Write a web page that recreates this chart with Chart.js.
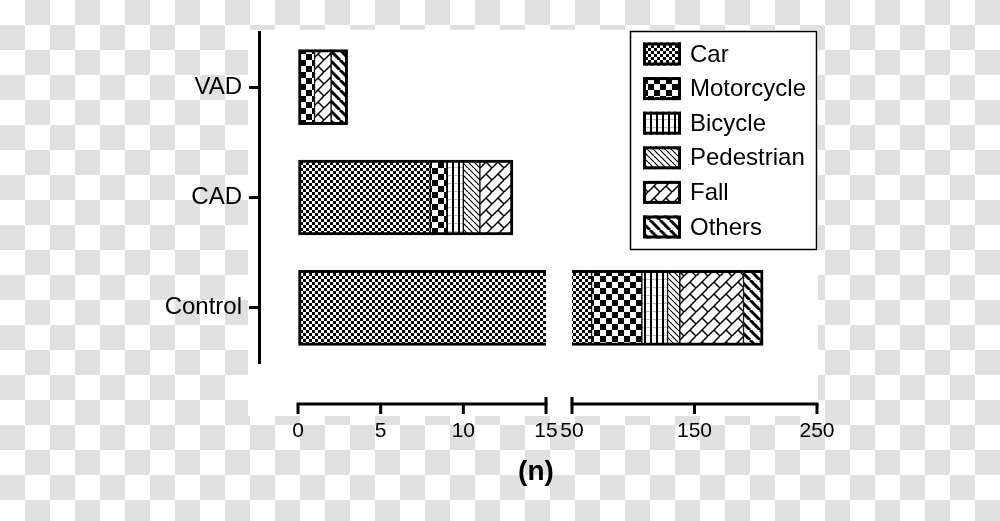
<!DOCTYPE html>
<html>
<head>
<meta charset="utf-8">
<script src="https://cdn.jsdelivr.net/npm/chart.js@4.4.1/dist/chart.umd.min.js"></script>
<style>
  html, body { margin: 0; padding: 0; }
  #stage {
    position: relative; width: 1000px; height: 521px; overflow: hidden;
    background-color: #fff;
    background-image: conic-gradient(#e0e0e0 0 25%, #fff 0 50%, #e0e0e0 0 75%, #fff 0);
    background-size: 50px 50px;
  }
  #paper { position: absolute; left: 248px; top: 30px; width: 570px; height: 386px; background: #fff; }
  canvas { position: absolute; left: 0; top: 0; }
</style>
</head>
<body>
<div id="stage">
  <div id="paper"></div>
  <canvas id="leftChart" width="1000" height="521"></canvas>
  <canvas id="rightChart" width="1000" height="521"></canvas>
</div>
<script>
const categories = ['VAD', 'CAD', 'Control'];
const seriesNames = ['Car', 'Motorcycle', 'Bicycle', 'Pedestrian', 'Fall', 'Others'];
const car        = [0, 8, 66];
const motorcycle = [1, 1, 41];
const bicycle    = [0, 1, 21];
const pedestrian = [0, 1, 10];
const fall       = [1, 2, 52];
const others     = [1, 0, 16];
const series = [car, motorcycle, bicycle, pedestrian, fall, others];

// broken x axis: two ranges
const leftTicks = [0, 5, 10, 15];
const rightTicks = [50, 150, 250];

Chart.defaults.font.family = "'Liberation Sans', Arial, sans-serif";
Chart.defaults.color = '#000';

function makePattern(w, h, draw) {
  const c = document.createElement('canvas');
  c.width = w; c.height = h;
  const g = c.getContext('2d');
  g.fillStyle = '#fff';
  g.fillRect(0, 0, w, h);
  g.fillStyle = '#000';
  g.strokeStyle = '#000';
  draw(g, w, h);
  return g.createPattern(c, 'repeat');
}

function diag(g, s, w, up) {
  g.lineWidth = w;
  g.beginPath();
  for (const o of [-s, 0, s]) {
    if (up) { g.moveTo(o, s); g.lineTo(o + s, 0); }
    else { g.moveTo(o, 0); g.lineTo(o + s, s); }
  }
  g.stroke();
}

const fills = [
  makePattern(6, 6, g => { g.fillRect(0, 0, 3, 3); g.fillRect(3, 3, 3, 3); }),
  makePattern(12, 12, g => { g.fillRect(0, 0, 6, 6); g.fillRect(6, 6, 6, 6); }),
  makePattern(6, 8, g => { g.fillStyle = '#bbb'; g.fillRect(0, 7, 6, 1); g.fillStyle = '#000'; g.fillRect(2, 0, 2, 8); }),
  makePattern(6, 6, (g, s) => diag(g, s, 1.2, false)),
  makePattern(12, 12, (g, s) => {
    diag(g, s, 1.5, true);
    g.beginPath(); g.moveTo(6, 6); g.lineTo(12, 12); g.stroke();
  }),
  makePattern(10, 10, (g, s) => diag(g, s, 3, false))
];

function edgeWidths(ctx) {
  if (ctx.type !== 'data') return 2;
  const vals = series.map(s => s[ctx.dataIndex]);
  const first = vals.findIndex(v => v > 0);
  let last = vals.length - 1;
  while (last > 0 && !(vals[last] > 0)) last--;
  const d = ctx.datasetIndex;
  return { top: 3, bottom: 3, left: d === first ? 3 : 1, right: d === last ? 3 : 1 };
}

function makeDatasets() {
  return seriesNames.map((name, i) => ({
    label: name,
    data: series[i],
    backgroundColor: fills[i],
    borderColor: '#000',
    borderWidth: edgeWidths,
    borderSkipped: false,
    barThickness: 75,
    clip: 0
  }));
}

const AXIS_Y = 404;

const brokenAxis = {
  id: 'brokenAxis',
  afterDraw(chart, args, opts) {
    const x = chart.scales.x;
    const ctx = chart.ctx;
    const px = x.ticks.map(t => x.getPixelForValue(t.value));
    ctx.save();
    ctx.strokeStyle = '#000';
    ctx.lineWidth = 3;
    ctx.beginPath();
    ctx.moveTo(px[0] - 1.5, AXIS_Y);
    ctx.lineTo(px[px.length - 1] + 1.5, AXIS_Y);
    ctx.stroke();
    ctx.beginPath();
    x.ticks.forEach((t, i) => {
      const top = t.value === opts.cap ? AXIS_Y - 7 : AXIS_Y;
      ctx.moveTo(px[i], top);
      ctx.lineTo(px[i], AXIS_Y + 10);
    });
    ctx.stroke();
    if (opts.title) {
      ctx.font = "bold 28px 'Liberation Sans', Arial, sans-serif";
      ctx.fillStyle = '#000';
      ctx.textAlign = 'center';
      ctx.textBaseline = 'middle';
      ctx.fillText(opts.title, 536, 472);
    }
    ctx.restore();
  }
};

const boxLegend = {
  id: 'boxLegend',
  afterDraw(chart) {
    const ctx = chart.ctx;
    ctx.save();
    ctx.fillStyle = '#fff';
    ctx.fillRect(630, 31, 187, 219);
    ctx.strokeStyle = '#000';
    ctx.lineWidth = 1.5;
    ctx.strokeRect(630.5, 31.5, 186, 218);
    ctx.font = "24px 'Liberation Sans', Arial, sans-serif";
    ctx.textBaseline = 'middle';
    ctx.textAlign = 'left';
    chart.data.datasets.forEach((ds, i) => {
      const cy = 54 + i * 34.6;
      ctx.fillStyle = ds.backgroundColor;
      ctx.fillRect(643, cy - 11.5, 38, 23);
      ctx.lineWidth = 3;
      ctx.strokeRect(644.5, cy - 10, 35, 20);
      ctx.fillStyle = '#000';
      ctx.fillText(ds.label, 690, cy + 1);
    });
    ctx.restore();
  }
};

function xScale(min, max, ticks) {
  return {
    type: 'linear', min, max, stacked: true,
    afterBuildTicks: s => { s.ticks = ticks.map(v => ({ value: v })); },
    afterFit: s => { s.height = 158; },
    border: { display: false },
    grid: { drawOnChartArea: false, tickLength: 53, tickColor: 'rgba(0,0,0,0)' },
    ticks: { font: { size: 21 }, padding: 3, color: '#000', maxRotation: 0, autoSkip: false }
  };
}

new Chart(document.getElementById('leftChart'), {
  type: 'bar',
  data: { labels: categories, datasets: makeDatasets() },
  plugins: [brokenAxis],
  options: {
    indexAxis: 'y',
    responsive: false,
    animation: false,
    layout: { padding: { left: 0, top: 32, right: 454, bottom: 0 } },
    scales: {
      x: xScale(-2.36, 15, leftTicks),
      y: {
        type: 'category', stacked: true, offset: true,
        afterFit: s => { s.width = 259; },
        border: { display: true, color: '#000', width: 3 },
        grid: { drawOnChartArea: false, offset: false, tickLength: 10, tickWidth: 3, tickColor: '#000' },
        ticks: { font: { size: 24 }, padding: 7, color: '#000' }
      }
    },
    plugins: {
      legend: { display: false },
      tooltip: { enabled: false },
      brokenAxis: { cap: 15, title: '(n)' }
    }
  }
});

new Chart(document.getElementById('rightChart'), {
  type: 'bar',
  data: { labels: categories, datasets: makeDatasets() },
  plugins: [brokenAxis, boxLegend],
  options: {
    indexAxis: 'y',
    responsive: false,
    animation: false,
    layout: { padding: { left: 572, top: 32, right: 183, bottom: 0 } },
    scales: {
      x: xScale(50, 250, rightTicks),
      y: { type: 'category', stacked: true, offset: true, display: false }
    },
    plugins: {
      legend: { display: false },
      tooltip: { enabled: false },
      brokenAxis: { cap: 50 }
    }
  }
});
</script>
</body>
</html>
